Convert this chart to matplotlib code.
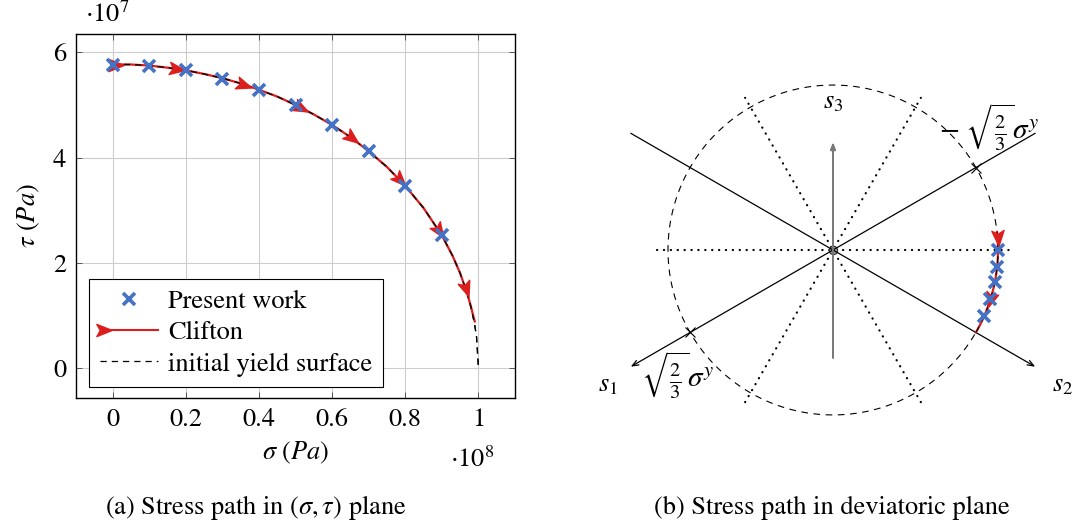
import numpy as np
import matplotlib
matplotlib.use("Agg")
import matplotlib.pyplot as plt
from matplotlib.path import Path
from matplotlib.markers import MarkerStyle
from matplotlib.transforms import Affine2D
from matplotlib.lines import Line2D
from matplotlib.legend_handler import HandlerBase

plt.rcParams["font.family"] = ["STIXGeneral", "DejaVu Serif"]
plt.rcParams["mathtext.fontset"] = "stix"

BLUE = "#4472C4"
RED = "#DC1E1E"
FS = 19

# ---- (a) stress path in (sigma, tau) plane, sigma in 1e8 Pa, tau in 1e7 Pa
sigma_work = [0.0, 0.1, 0.2, 0.3, 0.4, 0.5, 0.6, 0.7, 0.8, 0.9]
tau_work = [5.77, 5.74, 5.66, 5.50, 5.28, 4.99, 4.62, 4.12, 3.45, 2.53]

clifton_sigma = [0.0, 0.05, 0.1, 0.15, 0.2, 0.25, 0.3, 0.35, 0.4, 0.45, 0.5, 0.55,
                 0.6, 0.65, 0.7, 0.75, 0.8, 0.85, 0.9, 0.93, 0.95, 0.97, 0.98, 0.99]
clifton_tau = [5.77, 5.77, 5.75, 5.71, 5.66, 5.59, 5.51, 5.41, 5.29, 5.16, 5.00, 4.82,
               4.62, 4.39, 4.12, 3.82, 3.46, 3.04, 2.52, 2.12, 1.80, 1.40, 1.15, 0.88]
clifton_arrow_sigma = [0.01, 0.175, 0.36, 0.515, 0.655, 0.785, 0.893, 0.965]

yield_sigma = [0.0, 0.05, 0.1, 0.15, 0.2, 0.25, 0.3, 0.35, 0.4, 0.45, 0.5, 0.55,
               0.6, 0.65, 0.7, 0.75, 0.8, 0.85, 0.9, 0.93, 0.95, 0.97, 0.98, 0.99,
               0.995, 1.0]
yield_tau = [5.77, 5.77, 5.75, 5.71, 5.66, 5.59, 5.51, 5.41, 5.29, 5.16, 5.00, 4.82,
             4.62, 4.39, 4.12, 3.82, 3.46, 3.04, 2.52, 2.12, 1.80, 1.40, 1.15, 0.81,
             0.58, 0.0]

x_ticks = [0, 0.2, 0.4, 0.6, 0.8, 1]
x_tick_labels = ["0", "0.2", "0.4", "0.6", "0.8", "1"]
y_ticks = [0, 2, 4, 6]

# ---- (b) deviatoric plane (angles in degrees, radius of yield circle = 1)
dev_marker_angles = [0.0, -6.0, -11.2, -17.4, -23.7]
dev_path_start, dev_path_end = 6.3, -30.0
dev_arrow_angles = [4.0, -17.6]
dev_cross_angles = [30, 210]
dotted_angles = [0, 60, 120]
axis_half = 1.415
s3_half = 0.655
dotted_half = 1.065

# stealth-like arrowhead
arrow_path = Path([(1, 0), (-1, 0.8), (-0.55, 0), (-1, -0.8), (1, 0)],
                  [Path.MOVETO, Path.LINETO, Path.LINETO, Path.LINETO, Path.CLOSEPOLY])


def arrow_marker(angle_deg):
    return MarkerStyle(arrow_path, transform=Affine2D().rotate_deg(angle_deg))


class ArrowLineHandler(HandlerBase):
    def create_artists(self, legend, orig_handle, xdescent, ydescent, width, height,
                       fontsize, trans):
        y = height / 2 - ydescent
        x0 = -xdescent
        line = Line2D([x0 + 0.15 * width, x0 + width], [y, y], color=RED, lw=1.5,
                      transform=trans)
        head = Line2D([x0 + 0.08 * width], [y], marker=arrow_marker(0), ms=11,
                      color=RED, ls="", transform=trans)
        return [line, head]


fig = plt.figure(figsize=(10.74, 5.30), dpi=100)

# ================= (a)
ax = fig.add_axes([0.0708, 0.249, 0.4087, 0.6868])
ax.set_xlim(-0.1, 1.1)
ax.set_ylim(-0.577, 6.35)
ax.grid(True, color="#cccccc", lw=0.8)
ax.set_axisbelow(True)

yl, = ax.plot(yield_sigma, yield_tau, color="k", lw=0.9, ls=(0, (5, 4)),
              label="initial yield surface", zorder=2)
cl, = ax.plot(clifton_sigma, clifton_tau, color=RED, lw=1.6, label="Clifton", zorder=3)
pw, = ax.plot(sigma_work, tau_work, ls="", marker="x", ms=9, mew=2.6, color=BLUE,
              label="Present work", zorder=5)
# dashed line drawn again on top so it shows through the red line
ax.plot(yield_sigma, yield_tau, color="k", lw=0.9, ls=(0, (5, 4)), zorder=4)

tr = ax.transData
for s in clifton_arrow_sigma:
    t = np.interp(s, clifton_sigma, clifton_tau)
    s2 = s + 0.004
    t2 = np.interp(s2, clifton_sigma, clifton_tau)
    p1 = tr.transform((s, t))
    p2 = tr.transform((s2, t2))
    ang = np.degrees(np.arctan2(p2[1] - p1[1], p2[0] - p1[0]))
    ax.plot([s], [t], ls="", marker=arrow_marker(ang), ms=11, color=RED, zorder=4.5)

ax.set_xticks(x_ticks)
ax.set_xticklabels(x_tick_labels)
ax.set_yticks(y_ticks)
ax.tick_params(direction="in", length=4, width=0.6, top=True, right=True,
               labelsize=FS, pad=7, color="#444444")
for sp in ax.spines.values():
    sp.set_linewidth(1.0)
ax.set_xlabel(r"$\sigma\ (Pa)$", fontsize=FS, labelpad=6)
ax.set_ylabel(r"$\tau\ (Pa)$", fontsize=FS, labelpad=8)
ax.text(0.02, 1.052, r"$\cdot10^{7}$", transform=ax.transAxes, fontsize=FS,
        ha="left", va="center")
ax.text(0.902, -0.17, r"$\cdot10^{8}$", transform=ax.transAxes, fontsize=FS,
        ha="center", va="center")

leg = ax.legend(handles=[pw, cl, yl], loc="lower left", bbox_to_anchor=(0.03, 0.03),
                borderaxespad=0, fontsize=FS, frameon=True, fancybox=False,
                edgecolor="k", framealpha=1, handlelength=2.2, labelspacing=0.25,
                borderpad=0.4, handletextpad=0.4,
                handler_map={cl: ArrowLineHandler()})
leg.get_frame().set_linewidth(0.8)

# ================= (b)
bx = fig.add_axes([0.5493, 0.1698, 0.4469, 0.7547])
bx.set_xlim(-1.473, 1.436)
bx.set_ylim(-1.152, 1.273)
bx.axis("off")

th = np.radians(np.linspace(0, 360, 361))
bx.plot(np.cos(th), np.sin(th), color="k", lw=0.8, ls=(0, (6, 5)))

for a in dotted_angles:
    r = np.radians(a)
    bx.plot([-dotted_half * np.cos(r), dotted_half * np.cos(r)],
            [-dotted_half * np.sin(r), dotted_half * np.sin(r)],
            color="k", lw=1.6, ls=(0, (0.1, 3.0)), dash_capstyle="round")

# s1 axis (arrow towards 210 deg) and s2 axis (arrow towards 330 deg)
for start, end in [(30, 210), (150, 330)]:
    rs, re = np.radians(start), np.radians(end)
    bx.annotate("", xy=(axis_half * np.cos(re), axis_half * np.sin(re)),
                xytext=(axis_half * np.cos(rs), axis_half * np.sin(rs)),
                arrowprops=dict(arrowstyle="->,head_length=0.45,head_width=0.18",
                                color="k", lw=0.9, shrinkA=0, shrinkB=0))
bx.annotate("", xy=(0, s3_half), xytext=(0, -s3_half),
            arrowprops=dict(arrowstyle="-|>,head_length=0.4,head_width=0.15",
                            color="#777777", lw=1.4, shrinkA=0, shrinkB=0))

ca = np.radians(dev_cross_angles)
bx.plot(np.cos(ca), np.sin(ca), ls="", marker="x", ms=7, mew=0.8, color="k")
bx.plot([0], [0], ls="", marker="o", ms=6, mfc="#999999", mec="#333333", mew=0.8)

pa = np.radians(np.linspace(dev_path_start, dev_path_end, 60))
bx.plot(np.cos(pa), np.sin(pa), color=RED, lw=1.6, zorder=3)
bx.plot(np.cos(pa), np.sin(pa), color="k", lw=0.8, ls=(0, (6, 5)), zorder=3.5)
for a in dev_arrow_angles:
    r = np.radians(a)
    bx.plot([np.cos(r)], [np.sin(r)], ls="", marker=arrow_marker(a - 90), ms=11,
            color=RED, zorder=4)
ma = np.radians(dev_marker_angles)
bx.plot(np.cos(ma), np.sin(ma), ls="", marker="x", ms=9, mew=2.6, color=BLUE, zorder=5)

bx.text(0, 0.897, r"$s_3$", fontsize=FS, ha="center", va="center")
bx.text(-1.364, -0.82, r"$s_1$", fontsize=FS, ha="center", va="center")
bx.text(1.39, -0.82, r"$s_2$", fontsize=FS, ha="center", va="center")
bx.text(0.945, 0.745, r"$-\ \sqrt{\frac{2}{3}}\sigma^y$", fontsize=21, ha="center",
        va="center")
bx.text(-0.94, -0.758, r"$\sqrt{\frac{2}{3}}\sigma^y$", fontsize=21, ha="center",
        va="center")

fig.text(256 / 1074, 1 - 508 / 530, r"(a) Stress path in $(\sigma,\tau)$ plane",
         fontsize=FS, ha="center", va="center")
fig.text(832 / 1074, 1 - 508 / 530, "(b) Stress path in deviatoric plane",
         fontsize=FS, ha="center", va="center")

fig.savefig("out.png", dpi=100)
